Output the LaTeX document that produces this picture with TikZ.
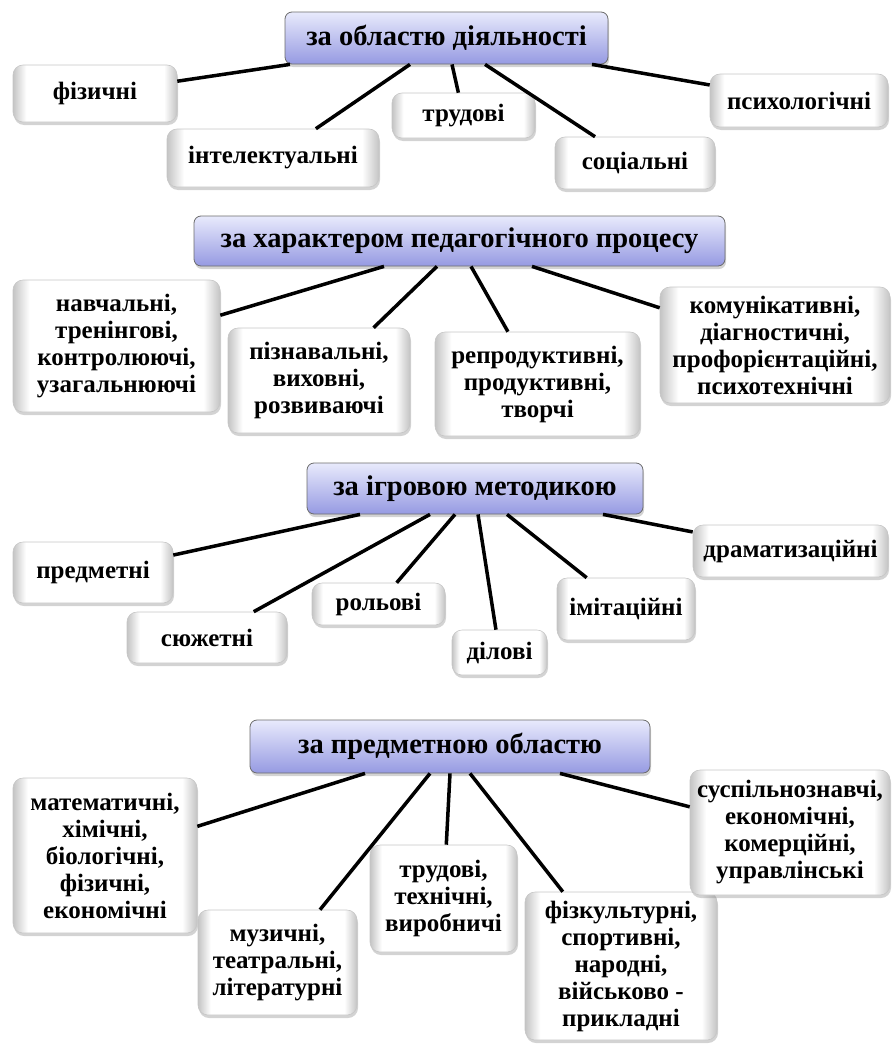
\documentclass[tikz,border=0pt]{standalone}
\usepackage{fontspec}
\setmainfont{Liberation Serif}
\usetikzlibrary{shadows}

\definecolor{headtop}{RGB}{232,234,252}
\definecolor{headbot}{RGB}{150,154,226}
\definecolor{itemedge}{RGB}{196,196,196}
\pgfdeclarehorizontalshading{itemshade}{100bp}{color(0bp)=(itemedge); color(25bp)=(itemedge); color(29bp)=(white); color(71bp)=(white); color(75bp)=(itemedge); color(100bp)=(itemedge)}

\begin{document}
\begin{tikzpicture}[x=1pt,y=-1pt]
		\tikzset{head style/.style={rectangle,
				rounded corners=7pt,
				draw=gray!85!black, line width=.8pt,
				top color=headtop, bottom color=headbot,
				drop shadow={shadow xshift=1pt, shadow yshift=-3pt, opacity=.35},
				inner sep=0pt,
				font=\bfseries\fontsize{28.5}{31}\selectfont},
			item style/.style={rectangle,
				rounded corners=10pt,
				draw=gray!45, line width=.6pt,
				shade, shading=itemshade,
				drop shadow={shadow xshift=1pt, shadow yshift=-3pt, opacity=.35},
				inner sep=0pt, align=center,
				font=\bfseries\fontsize{25}{27}\selectfont},
			link style/.style={line width=3.5pt, black}}
		\useasboundingbox (0,0) rectangle (893,1044);

		% Draw the headers
		\node[head style, minimum width=323pt, minimum height=52pt] at (446.5,38) (h1) {за областю діяльності};
		\node[head style, minimum width=531pt, minimum height=50pt] at (459.5,241) (h2) {за характером педагогічного процесу};
		\node[head style, minimum width=336pt, minimum height=51pt] at (475,488.5) (h3) {за ігровою методикою};
		\node[head style, minimum width=400pt, minimum height=53pt] at (450,746.5) (h4) {за предметною областю};

		% Draw the items
		\node[item style, minimum width=164pt, minimum height=57pt] at (95,93.5) (fiz) {фізичні};
		\node[item style, minimum width=212pt, minimum height=58pt] at (273,158) (intel) {інтелектуальні};
		\node[item style, minimum width=143pt, minimum height=45pt] at (463.5,115.5) (trud) {трудові};
		\node[item style, minimum width=160pt, minimum height=52pt] at (635,163) (soc) {соціальні};
		\node[item style, minimum width=178pt, minimum height=53pt] at (799,100.5) (psy) {психологічні};

		\node[item style, minimum width=207pt, minimum height=132pt] at (116.5,346) (nav) {навчальні,\\тренінгові,\\контролюючі,\\узагальнюючі};
		\node[item style, minimum width=182pt, minimum height=105pt] at (319,380.5) (piz) {пізнавальні,\\виховні,\\розвиваючі};
		\node[item style, minimum width=205pt, minimum height=104pt] at (537.5,384) (rep) {репродуктивні,\\продуктивні,\\творчі};
		\node[item style, minimum width=230pt, minimum height=116pt] at (775,345) (kom) {комунікативні,\\діагностичні,\\профорієнтаційні,\\психотехнічні};

		\node[item style, minimum width=160pt, minimum height=61pt] at (93,572.5) (pred) {предметні};
		\node[item style, minimum width=160pt, minimum height=51pt] at (207,637.5) (sjuz) {сюжетні};
		\node[item style, minimum width=133pt, minimum height=42pt] at (378.5,604) (rol) {рольові};
		\node[item style, minimum width=95pt, minimum height=45pt] at (499.5,652.5) (dil) {ділові};
		\node[item style, minimum width=138pt, minimum height=62pt] at (626,609) (imit) {імітаційні};
		\node[item style, minimum width=195pt, minimum height=52pt] at (790.5,551) (dram) {драматизаційні};

		\node[item style, minimum width=184pt, minimum height=155pt] at (105,855.5) (mat) {математичні,\\хімічні,\\біологічні,\\фізичні,\\економічні};
		\node[item style, minimum width=159pt, minimum height=105pt] at (277.5,962.5) (muz) {музичні,\\театральні,\\літературні};
		\node[item style, minimum width=147pt, minimum height=107pt] at (443.5,898.5) (tex) {трудові,\\технічні,\\виробничі};
		\node[item style, minimum width=192pt, minimum height=148pt] at (621,966) (fizk) {фізкультурні,\\спортивні,\\народні,\\військово -\\прикладні};
		\node[item style, minimum width=200pt, minimum height=125pt] at (790,832.5) (sus) {суспільнознавчі,\\економічні,\\комерційні,\\управлінські};

		% Connect the headers with the items
		\draw[link style]
		([xshift=-156.5pt]h1.south) edge (fiz)
		([xshift=-36.5pt]h1.south) edge (intel)
		([xshift=5.5pt]h1.south) edge (trud)
		([xshift=38.5pt]h1.south) edge (soc)
		([xshift=145.5pt]h1.south) edge (psy)
		([xshift=-75.5pt]h2.south) edge (nav)
		([xshift=-22.5pt]h2.south) edge (piz)
		([xshift=11.5pt]h2.south) edge (rep)
		([xshift=72.5pt]h2.south) edge (kom)
		([xshift=-115pt]h3.south) edge (pred)
		([xshift=-45pt]h3.south) edge (sjuz)
		([xshift=-20pt]h3.south) edge (rol)
		([xshift=3pt]h3.south) edge (dil)
		([xshift=32pt]h3.south) edge (imit)
		([xshift=128pt]h3.south) edge (dram)
		([xshift=-85pt]h4.south) edge (mat)
		([xshift=-20pt]h4.south) edge (muz)
		([xshift=0pt]h4.south) edge (tex)
		([xshift=20pt]h4.south) edge (fizk)
		([xshift=110pt]h4.south) edge (sus);

\end{tikzpicture}
\end{document}
